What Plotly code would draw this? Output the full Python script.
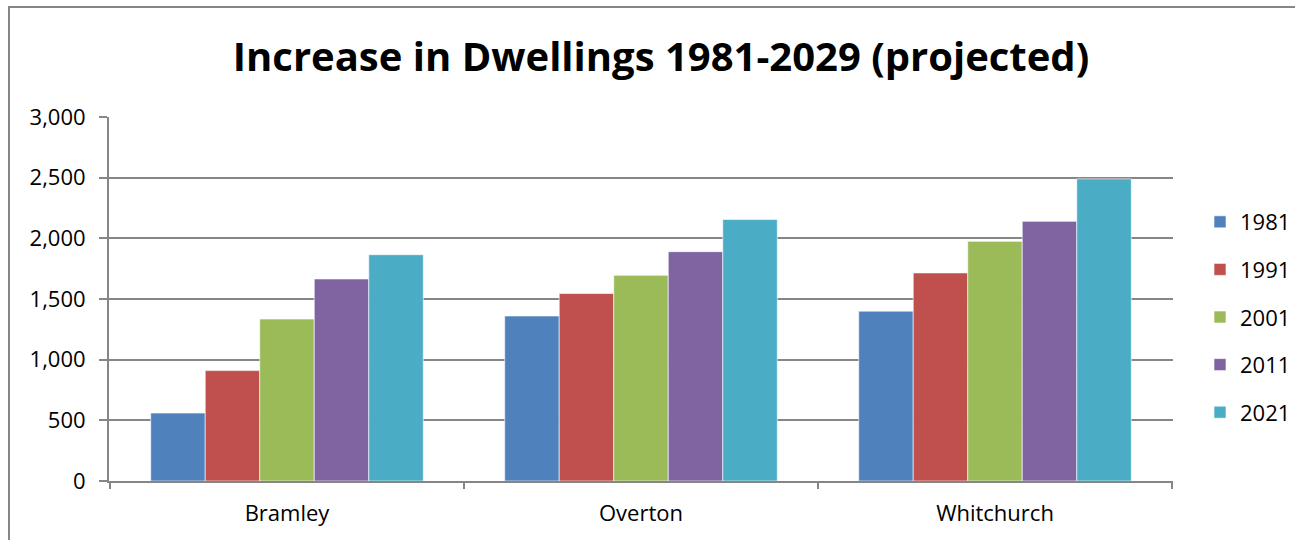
import plotly.graph_objects as go

categories = ["Bramley", "Overton", "Whitchurch"]
years = ["1981", "1991", "2001", "2011", "2021"]
v1981 = [560, 1360, 1400]
v1991 = [910, 1545, 1715]
v2001 = [1335, 1695, 1975]
v2011 = [1665, 1890, 2140]
v2021 = [1865, 2155, 2490]
series = [v1981, v1991, v2001, v2011, v2021]
colors = ["#4F81BD", "#C0504D", "#9BBB59", "#8064A2", "#4BACC6"]

FONT = "Open Sans"
fig = go.Figure()
for i, (yr, vals) in enumerate(zip(years, series)):
    fig.add_trace(go.Bar(
        x=categories, y=vals, name=yr, legendgroup=yr,
        marker=dict(color=colors[i], line=dict(color="rgba(255,255,255,0.6)", width=1)),
    ))

W, H = 1295, 540
L, R, T, B = 109, 122, 117, 59
pw = W - L - R
ph = H - T - B

fig.update_layout(
    width=W, height=H,
    margin=dict(l=L, r=R, t=T, b=B, autoexpand=False),
    paper_bgcolor="white", plot_bgcolor="white",
    barmode="group", bargap=0.23, bargroupgap=0,
    title=dict(text="<b>Increase in Dwellings 1981-2029 (projected)</b>",
               x=661 / W, xanchor="center", xref="container",
               y=1 - 57 / H, yanchor="middle", yref="container",
               font=dict(family=FONT, size=40, color="black")),
    font=dict(family=FONT, color="black"),
    legend=dict(x=1200 / W, xanchor="left", xref="container",
                y=1 - 201 / H, yanchor="top", yref="container",
                font=dict(family=FONT, size=22, color="black"),
                tracegroupgap=16, bgcolor="rgba(0,0,0,0)"),
    xaxis=dict(showline=True, linecolor="#868686", linewidth=2, automargin=False,
               ticks="", tickfont=dict(family=FONT, size=22, color="black"),
               ticklabelstandoff=12),
    yaxis=dict(range=[0, 3000], tickvals=[0, 500, 1000, 1500, 2000, 2500, 3000],
               tickformat=",", showline=True, linecolor="#868686", linewidth=2,
               showgrid=True, gridcolor="#868686", gridwidth=2, automargin=False,
               ticks="outside", ticklen=8, tickcolor="#868686", tickwidth=2,
               ticklabelstandoff=9,
               tickfont=dict(family=FONT, size=22, color="black"), zeroline=False),
)

# category separator ticks on x axis
for k in range(len(categories) + 1):
    fig.add_shape(type="line", xref="x", yref="paper",
                  x0=k - 0.5, x1=k - 0.5, y0=0, y1=-8 / ph,
                  line=dict(color="#868686", width=2))

# outer chart border (right and bottom edges lie outside the visible area)
fig.add_shape(type="rect", xref="paper", yref="paper",
              x0=(9 - L) / pw, x1=(1310 - L) / pw,
              y0=(H - B - 560) / ph, y1=(H - B - 7) / ph,
              line=dict(color="#868686", width=2), fillcolor="rgba(0,0,0,0)", layer="above")

fig.write_html("out.html", config={"displayModeBar": False},
               post_script="document.body.style.margin='0px';")
